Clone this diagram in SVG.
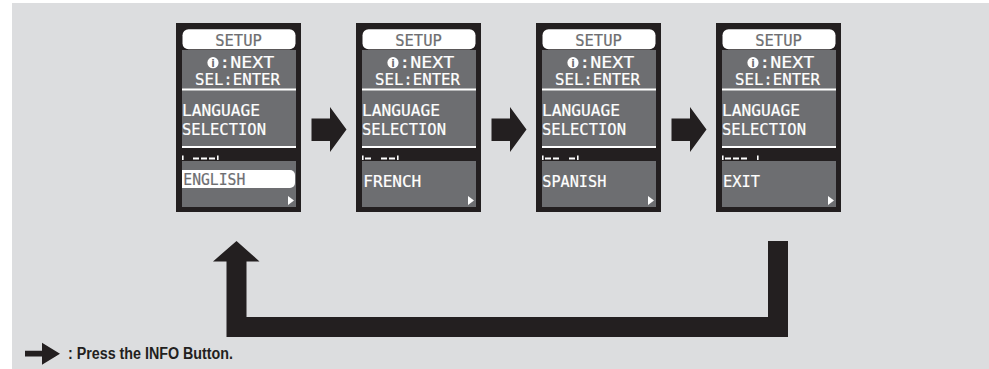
<svg xmlns="http://www.w3.org/2000/svg" width="989" height="369" viewBox="0 0 989 369">
<style>
.bg{fill:#dcdddf}
.frame{fill:#231f20}
.scr{fill:#6d6e71}
.wh{fill:#ffffff}
.lcd{font-family:"DejaVu Sans Mono","Liberation Mono",monospace;font-size:15.5px;stroke-width:0.2px}
.lw{fill:#ffffff;stroke:#ffffff}
.lg{fill:#6d6e71;stroke:#6d6e71}
.ink{fill:#231f20}
.leg{font-family:"Liberation Sans",Arial,sans-serif;font-weight:bold;font-size:16px;fill:#231f20}
</style>
<defs>
<g id="base">
<rect class="frame" x="176" y="23" width="125" height="189"/>
<rect class="wh" x="182.5" y="29.3" width="113" height="20" rx="6"/>
<rect class="scr" x="182" y="50" width="114" height="96"/>
<rect class="wh" x="182" y="88.5" width="114" height="2"/>
<rect class="wh" x="182" y="146" width="114" height="2"/>
<rect class="scr" x="182" y="161" width="114" height="46"/>
<polygon class="wh" points="288,196 294,200.5 288,205"/>
<text class="lcd lg" x="238.5" y="46" text-anchor="middle">SETUP</text>
<circle class="wh" cx="213" cy="62.7" r="5.6"/>
<text x="213" y="66.5" text-anchor="middle" style="font-family:'DejaVu Sans',sans-serif;font-weight:bold;font-size:10.5px;fill:#6d6e71">i</text>
<text class="lcd lw" x="219.3" y="67.7" textLength="55" lengthAdjust="spacingAndGlyphs">:NEXT</text>
<text class="lcd lw" x="195" y="85" textLength="85" lengthAdjust="spacingAndGlyphs">SEL:ENTER</text>
<text class="lcd lw" x="182" y="115.7" textLength="78" lengthAdjust="spacingAndGlyphs">LANGUAGE</text>
<text class="lcd lw" x="182" y="135" textLength="84" lengthAdjust="spacingAndGlyphs">SELECTION</text>
<rect class="wh" x="182" y="155.5" width="1.6" height="4.5"/>
<rect class="wh" x="217" y="155.5" width="1.6" height="4.5"/>
</g>
</defs>
<rect class="bg" x="12" y="3" width="977" height="366"/>

<g id="screen-english">
<use href="#base"/>
<rect class="wh" x="193" y="157.5" width="6" height="2"/>
<rect class="wh" x="201" y="157.5" width="6" height="2"/>
<rect class="wh" x="209" y="157.5" width="6" height="2"/>
<path class="wh" d="M182,170 H290 A5,5 0 0 1 295,175 V183 A5,5 0 0 1 290,188 H182 Z"/>
<text class="lcd lg" x="183.3" y="185" textLength="62" lengthAdjust="spacingAndGlyphs">ENGLISH</text>
</g>

<g id="screen-french" transform="translate(180,0)">
<use href="#base"/>
<rect class="wh" x="185" y="157.5" width="6" height="2"/>
<rect class="wh" x="201" y="157.5" width="6" height="2"/>
<rect class="wh" x="209" y="157.5" width="6" height="2"/>
<text class="lcd lw" x="183.3" y="186.7" textLength="58" lengthAdjust="spacingAndGlyphs">FRENCH</text>
</g>

<g id="screen-spanish" transform="translate(360,0)">
<use href="#base"/>
<rect class="wh" x="185" y="157.5" width="6" height="2"/>
<rect class="wh" x="193" y="157.5" width="6" height="2"/>
<rect class="wh" x="209" y="157.5" width="6" height="2"/>
<text class="lcd lw" x="182.3" y="186.7" textLength="64" lengthAdjust="spacingAndGlyphs">SPANISH</text>
</g>

<g id="screen-exit" transform="translate(540,0)">
<use href="#base"/>
<rect class="wh" x="185" y="157.5" width="6" height="2"/>
<rect class="wh" x="193" y="157.5" width="6" height="2"/>
<rect class="wh" x="201" y="157.5" width="6" height="2"/>
<text class="lcd lw" x="183" y="186.7" textLength="37" lengthAdjust="spacingAndGlyphs">EXIT</text>
</g>

<g id="connectors">
<polygon class="ink" points="311.5,118.5 330,118.5 330,107 346.5,129.5 330,152 330,141 311.5,141"/>
<polygon class="ink" points="491.5,118.5 510,118.5 510,107 526.5,129.5 510,152 510,141 491.5,141"/>
<polygon class="ink" points="671.5,118.5 690,118.5 690,107 706.5,129.5 690,152 690,141 671.5,141"/>
<polygon class="ink" points="768,241 788,241 788,337 226.5,337 226.5,261.4 213,261.4 236.5,241 259.5,261.4 246.5,261.4 246.5,317 768,317"/>
</g>

<g id="legend">
<polygon class="ink" points="25,350.8 42,350.8 42,342.7 60,353.7 42,364.7 42,356.5 25,356.5"/>
<text class="leg" x="68" y="358.5" textLength="165" lengthAdjust="spacingAndGlyphs">: Press the INFO Button.</text>
</g>
</svg>
